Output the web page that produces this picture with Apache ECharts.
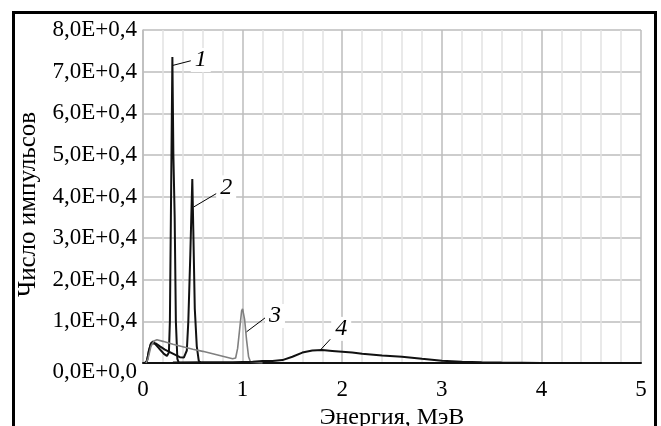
<!DOCTYPE html>
<html>
<head>
<meta charset="utf-8">
<script src="https://cdn.jsdelivr.net/npm/echarts@6/dist/echarts.min.js"></script>
<style>
  html, body { margin: 0; padding: 0; background: #fff; }
  #spectrum { width: 661px; height: 426px; }
</style>
</head>
<body>
<div id="spectrum"></div>
<script>
// energy ticks (МэВ) and count ticks
const xTicks = [0, 1, 2, 3, 4, 5]
const yTicks = [0, 1, 2, 3, 4, 5, 6, 7, 8]

// curves: [energy, counts]
const curve1 = [
  [0.02, 0], [0.04, 0.05], [0.06, 0.3], [0.08, 0.47], [0.10, 0.52], [0.12, 0.48],
  [0.15, 0.38], [0.18, 0.3], [0.21, 0.22], [0.24, 0.17], [0.26, 0.25], [0.27, 1.0],
  [0.28, 3.5], [0.295, 7.35], [0.305, 5.0], [0.318, 3.5], [0.33, 1.0], [0.345, 0.1],
  [0.36, 0], [0.8, 0]
]
const curve2 = [
  [0.02, 0], [0.04, 0.05], [0.06, 0.3], [0.08, 0.47], [0.10, 0.5], [0.13, 0.47],
  [0.17, 0.4], [0.22, 0.32], [0.27, 0.26], [0.32, 0.2], [0.37, 0.14], [0.41, 0.13],
  [0.44, 0.3], [0.455, 1.0], [0.475, 2.6], [0.495, 4.42], [0.505, 3.2], [0.52, 1.3],
  [0.54, 0.4], [0.56, 0.05], [0.58, 0], [1.0, 0]
]
const curve3 = [
  [0.03, 0], [0.05, 0.1], [0.08, 0.4], [0.11, 0.53], [0.14, 0.56], [0.2, 0.52],
  [0.3, 0.45], [0.4, 0.39], [0.5, 0.33], [0.6, 0.28], [0.7, 0.22], [0.8, 0.16],
  [0.9, 0.1], [0.93, 0.12], [0.95, 0.35], [0.97, 0.8], [0.99, 1.25], [1.0, 1.3],
  [1.02, 1.05], [1.04, 0.55], [1.06, 0.15], [1.08, 0.02], [1.1, 0], [1.2, 0]
]
const curve4 = [
  [0.3, 0.01], [0.6, 0.02], [0.9, 0.02], [1.1, 0.03], [1.2, 0.05], [1.3, 0.05],
  [1.4, 0.07], [1.5, 0.15], [1.6, 0.25], [1.7, 0.3], [1.8, 0.31], [1.9, 0.29],
  [2.0, 0.27], [2.1, 0.25], [2.2, 0.22], [2.4, 0.18], [2.6, 0.15], [2.8, 0.1],
  [3.0, 0.055], [3.2, 0.03], [3.4, 0.02], [3.6, 0.012], [3.8, 0.006], [4.0, 0]
]

// curve numbers: leader line from the curve, and where the number sits
const curveNames = ['1', '2', '3', '4']
const leaderFrom = [[0.30, 7.15], [0.51, 3.75], [1.04, 0.75], [1.78, 0.31]]
const leaderTo = [[0.495, 7.27], [0.75, 4.09], [1.24, 1.11], [1.88, 0.57]]
const nameAt = [[0.58, 7.28], [0.835, 4.22], [1.325, 1.13], [1.99, 0.82]]

const serif = '"Liberation Serif", "Times New Roman", serif'

function curve (data, color, width, i) {
  return {
    type: 'line',
    data: data,
    showSymbol: false,
    animation: false,
    lineStyle: { color: color, width: width },
    markLine: {
      silent: true,
      symbol: ['none', 'none'],
      animation: false,
      label: { show: false },
      lineStyle: { color: '#000', width: 1, type: 'solid' },
      data: [[{ coord: leaderFrom[i] }, { coord: leaderTo[i] }]]
    },
    markPoint: {
      silent: true,
      animation: false,
      symbol: 'circle',
      symbolSize: 1,
      itemStyle: { color: 'rgba(0,0,0,0)' },
      label: {
        show: true,
        position: 'inside',
        formatter: curveNames[i],
        fontFamily: serif,
        fontStyle: 'italic',
        fontSize: 24,
        color: '#000',
        backgroundColor: '#fff',
        padding: [0, 4, 0, 4]
      },
      data: [{ coord: nameAt[i] }]
    }
  }
}

const chart = echarts.init(document.getElementById('spectrum'))
chart.setOption({
  backgroundColor: '#fff',
  graphic: [{
    type: 'rect',
    left: 11,
    top: 10,
    shape: { width: 642, height: 440 },
    style: { fill: 'none', stroke: '#000', lineWidth: 3 },
    silent: true
  }],
  grid: { left: 143, right: 20, top: 30, bottom: 63, outerBoundsMode: 'none', containLabel: false },
  xAxis: {
    type: 'value',
    min: xTicks[0],
    max: xTicks[xTicks.length - 1],
    interval: 1,
    name: 'Энергия, МэВ',
    nameLocation: 'middle',
    nameGap: 35,
    nameTextStyle: { fontFamily: serif, fontSize: 24, color: '#000' },
    axisLine: { lineStyle: { color: '#111', width: 2 } },
    axisTick: { show: false },
    axisLabel: { fontFamily: serif, fontSize: 23, color: '#000', margin: 15 },
    splitLine: { show: true, lineStyle: { color: '#bdbdbd', width: 1.5 } },
    minorTick: { show: false, splitNumber: 5 },
    minorSplitLine: { show: true, lineStyle: { color: '#e2e2e2', width: 1.5 } }
  },
  yAxis: {
    type: 'value',
    min: yTicks[0],
    max: yTicks[yTicks.length - 1],
    interval: 1,
    name: 'Число импульсов',
    nameLocation: 'middle',
    nameGap: 102,
    nameTextStyle: { fontFamily: serif, fontSize: 25, color: '#000', padding: [0, 16, 0, 0] },
    axisLine: { show: true, lineStyle: { color: '#bdbdbd', width: 1.5 } },
    axisTick: { show: false },
    axisLabel: {
      fontFamily: serif,
      fontSize: 23,
      color: '#000',
      margin: 6,
      formatter: function (v) {
        // нулевая метка в оригинале сдвинута ниже оси
        return v === 0 ? '{zero|0,0E+0,0}' : v + ',0E+0,4'
      },
      rich: {
        zero: { fontFamily: serif, fontSize: 23, color: '#000', padding: [18, 0, 0, 0] }
      }
    },
    splitLine: { show: true, lineStyle: { color: '#bdbdbd', width: 1.5 } }
  },
  series: [
    curve(curve1, '#111', 2, 0),
    curve(curve2, '#111', 2, 1),
    curve(curve3, '#808080', 1.6, 2),
    curve(curve4, '#111', 2, 3)
  ]
})
</script>
</body>
</html>
